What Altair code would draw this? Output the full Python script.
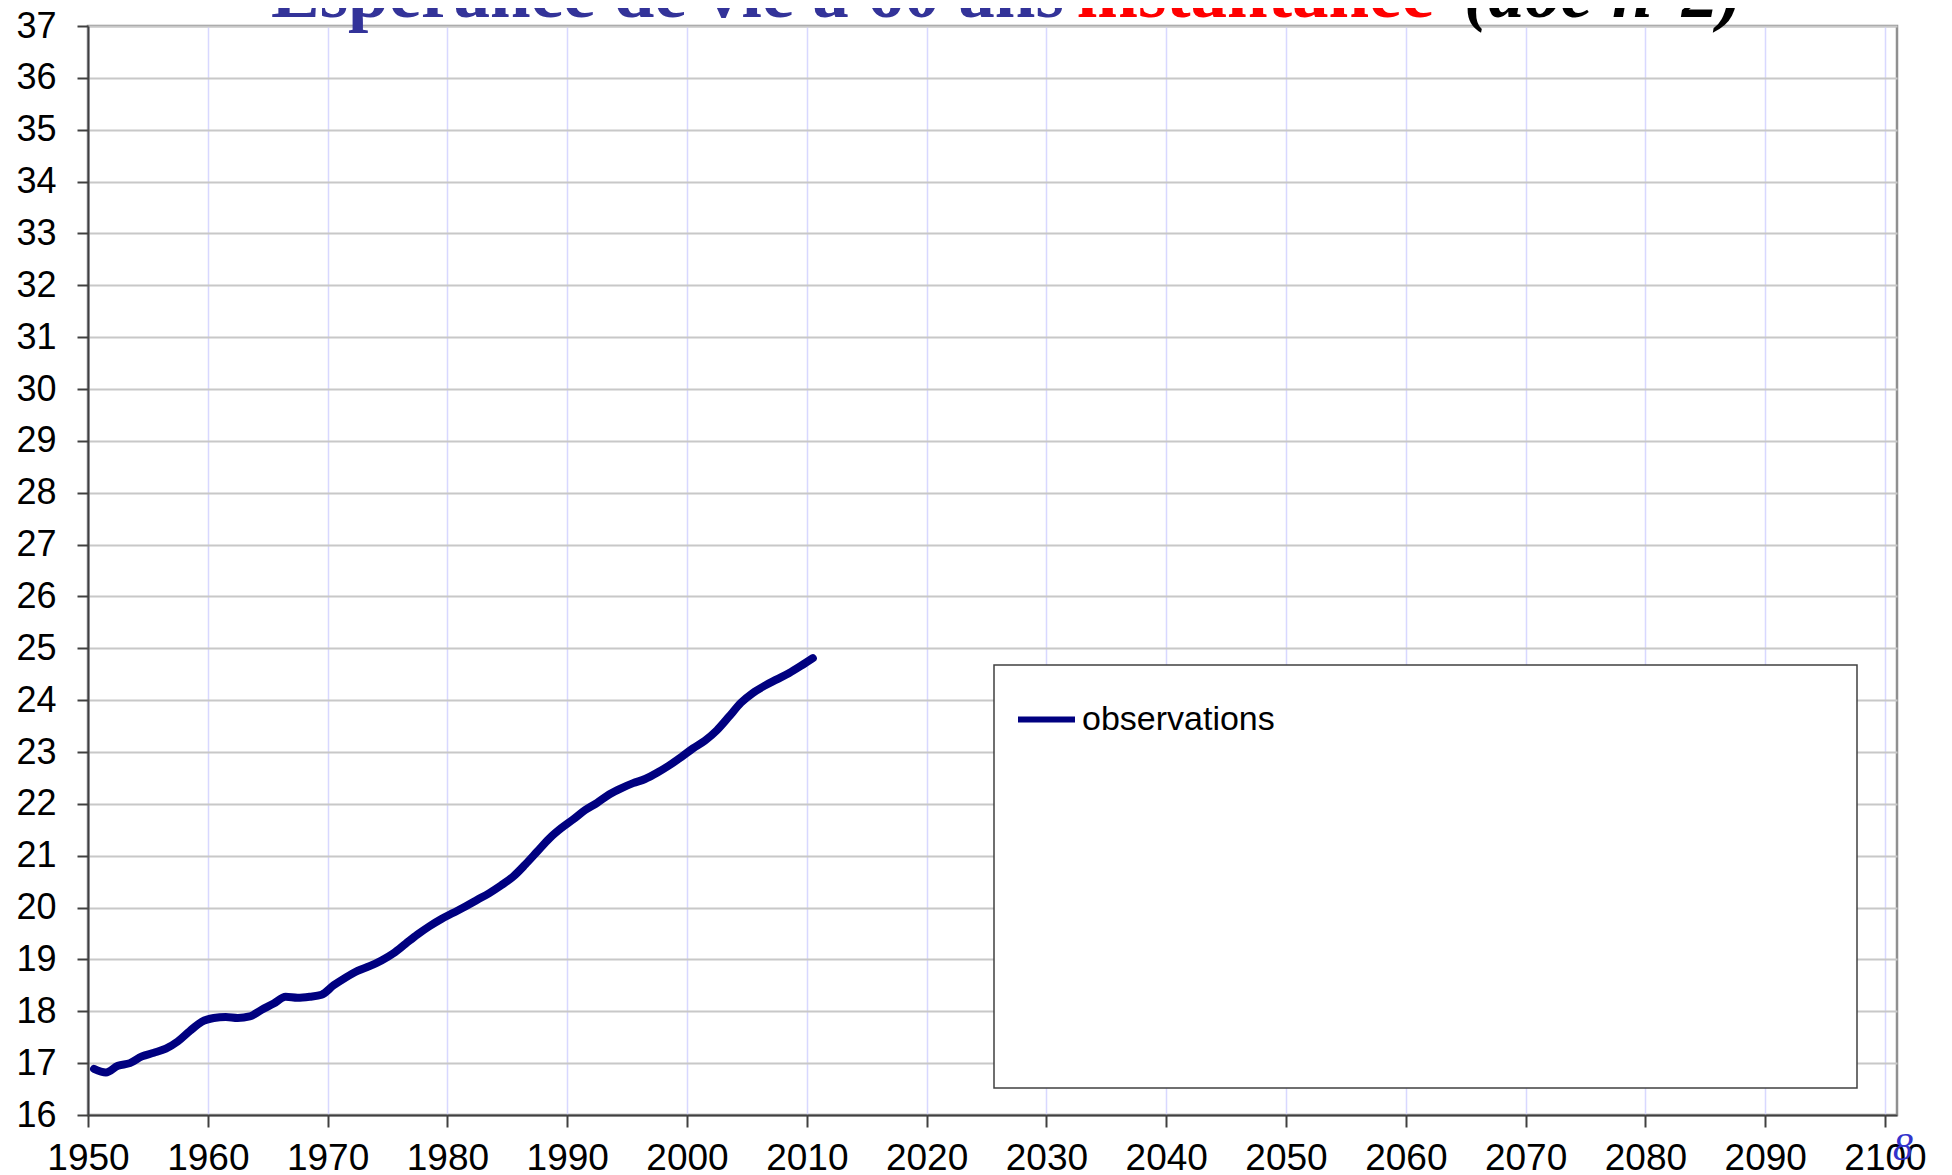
import altair as alt
import pandas as pd

# ---- data ----
years = list(range(1950, 2011))
life_exp_60 = [
    16.89, 16.82, 16.95, 17.00, 17.13, 17.20, 17.28, 17.42, 17.62, 17.80,
    17.87, 17.89, 17.87, 17.90, 18.03, 18.15, 18.28, 18.26, 18.28, 18.32,
    18.50, 18.65, 18.78, 18.87, 18.98, 19.12, 19.30, 19.48, 19.64, 19.78,
    19.90, 20.02, 20.15, 20.28, 20.43, 20.60, 20.83, 21.08, 21.33, 21.53,
    21.70, 21.88, 22.02, 22.18, 22.30, 22.40, 22.48, 22.60, 22.74, 22.90,
    23.07, 23.22, 23.42, 23.68, 23.95, 24.14, 24.28, 24.40, 24.52, 24.66,
    24.81,
]
series_name = ["observations"]
x_ticks = list(range(1950, 2101, 10))
y_ticks = list(range(16, 38))
title_parts = ["Espérance de vie à 60 ans ", "instantanée ", "(doc n°2)"]
page_number = "8"

df = pd.DataFrame({"year": years, "value": life_exp_60, "series": series_name[0]})

W, H = 1809, 1089

x_scale = alt.Scale(domain=[1950, 2101], nice=False, zero=False)
y_scale = alt.Scale(domain=[16, 37], nice=False, zero=False)

line = (
    alt.Chart(df)
    .transform_calculate(xpos="datum.year + 0.5")
    .mark_line(strokeWidth=8, interpolate="monotone", strokeCap="round", strokeJoin="round")
    .encode(
        x=alt.X(
            "xpos:Q",
            scale=x_scale,
            axis=alt.Axis(
                values=x_ticks, format="d", title=None,
                labelFontSize=37, labelFont="Liberation Sans", labelColor="black",
                labelPadding=13, labelFlush=False, labelOverlap=False, labelBound=False,
                tickSize=12, tickWidth=2, tickColor="#404040",
                domainColor="#404040", domainWidth=2,
                grid=True, gridColor="#d8d8ff", gridWidth=1.5,
            ),
        ),
        y=alt.Y(
            "value:Q",
            scale=y_scale,
            axis=alt.Axis(
                values=y_ticks, format="d", title=None,
                labelFontSize=36, labelFont="Liberation Sans", labelColor="black",
                labelPadding=21, labelFlush=False, labelOverlap=False, labelBound=False,
                tickSize=11, tickWidth=2, tickColor="#404040",
                domainColor="#404040", domainWidth=2,
                grid=True, gridColor="#c8c8c8", gridWidth=2,
            ),
        ),
        color=alt.Color(
            "series:N",
            scale=alt.Scale(domain=series_name, range=["#000080"]),
            legend=alt.Legend(
                title=None, orient="none", legendX=927, legendY=662,
                symbolType="stroke", symbolSize=3249, symbolStrokeWidth=6,
                labelFontSize=34, labelFont="Liberation Sans", labelColor="black",
                labelOffset=4, labelLimit=600, padding=0,
            ),
        ),
    )
)

frame = (
    alt.Chart(alt.Data(values=[{}]))
    .mark_rect(fill="white", stroke="#404040", strokeWidth=1.5)
    .encode(x=alt.value(906), x2=alt.value(1769), y=alt.value(639), y2=alt.value(1062))
)

title_colors = ["#333399", "#ff0000", "#000000"]
title_x = [183, 989, 1376]
title_styles = ["normal", "normal", "italic"]
title_layers = [
    alt.Chart(alt.Data(values=[{}]))
    .mark_text(
        text=t, align="left", baseline="alphabetic", font="Liberation Serif",
        fontWeight="bold", fontStyle=s, fontSize=73, color=c,
    )
    .encode(x=alt.value(xp), y=alt.value(-9))
    for t, c, xp, s in zip(title_parts, title_colors, title_x, title_styles)
]

page_num = (
    alt.Chart(alt.Data(values=[{}]))
    .mark_text(text=page_number, align="center", baseline="middle",
               font="Liberation Serif", fontStyle="italic", fontSize=40, color="#3333cc")
    .encode(x=alt.value(1815), y=alt.value(1122))
)

chart = (
    alt.layer(frame, line, *title_layers, page_num)
    .properties(
        width=W, height=H,
        autosize=alt.AutoSizeParams(type="none"),
        padding={"left": 80, "top": 18, "right": 40, "bottom": 70},
        background="white",
    )
    .configure_view(stroke="#909090", strokeWidth=2.5)
)

chart.save("out.html", embed_options={"renderer": "svg", "actions": False})
